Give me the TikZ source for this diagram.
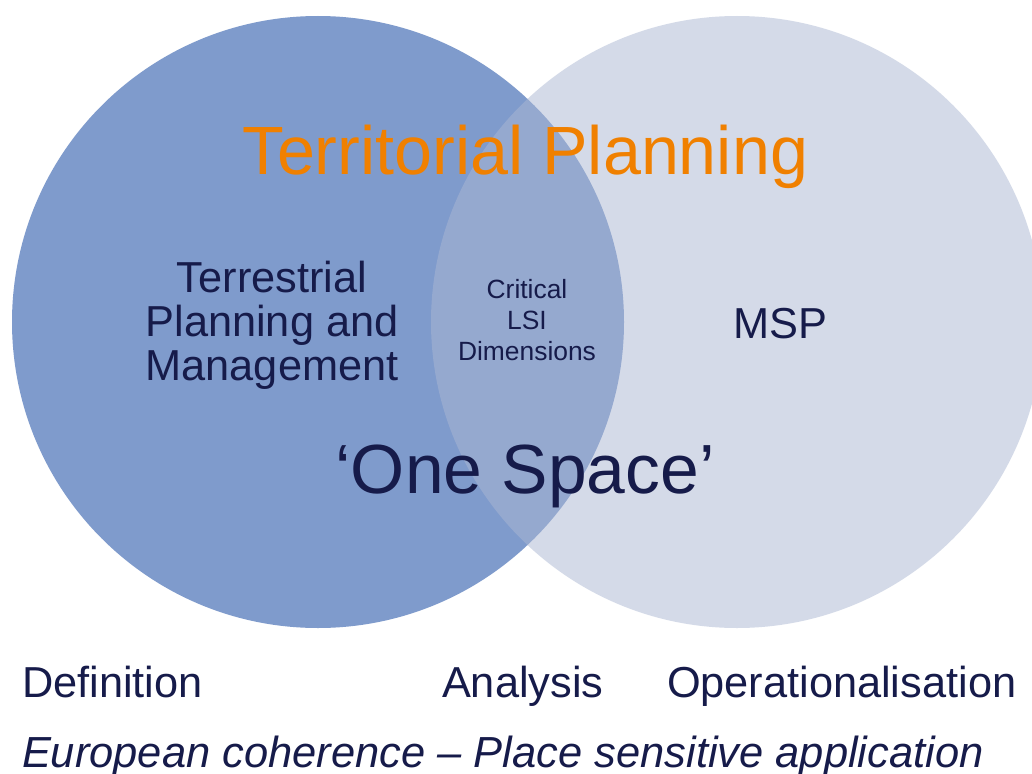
\documentclass[tikz,border=0pt]{standalone}
\usepackage{fontspec}
\setmainfont{Liberation Sans}
\definecolor{leftblue}{RGB}{127,155,204}
\definecolor{rightblue}{RGB}{171,183,211}
\definecolor{navy}{RGB}{22,27,74}
\definecolor{orangeT}{RGB}{240,128,0}
\tikzset{
  txt/.style={inner sep=0pt, outer sep=0pt, text=navy},
  big/.style={txt, font=\fontsize{51.2}{60}\selectfont},
  mid/.style={txt, font=\fontsize{32.5}{33}\selectfont},
  small/.style={txt, align=center, font=\fontsize{19.8}{22.9}\selectfont},
}
\begin{document}
\begin{tikzpicture}[x=0.75pt,y=-0.75pt]
\useasboundingbox (0,0) rectangle (1032,774);
\fill[white] (0,0) rectangle (1032,774);
\fill[leftblue] (318,322) circle[radius=306];
\fill[rightblue, fill opacity=0.5] (737,322) circle[radius=306];
\node[big, text=orangeT, anchor=base] (title) at (525.5,174) {Territorial Planning};
\node[big, anchor=base, font=\fontsize{52.2}{60}\selectfont] (one) at (525,493) {‘One Space’};
\node[mid, align=center, anchor=base] (terr) at (272,380) {Terrestrial\\Planning and\\Management};
\node[small, anchor=base] (crit) at (527,360) {Critical\\LSI\\Dimensions};
\node[mid, anchor=base] (msp) at (780,338) {MSP};
\node[mid, anchor=base west] (def) at (22,697) {Definition};
\node[mid, anchor=base west] (ana) at (442,697) {Analysis};
\node[mid, anchor=base west] (ope) at (667,697) {Operationalisation};
\node[mid, anchor=base west, font=\fontsize{32.6}{33}\selectfont\itshape] (eur) at (22,767) {European coherence – Place sensitive application};
\end{tikzpicture}
\end{document}
